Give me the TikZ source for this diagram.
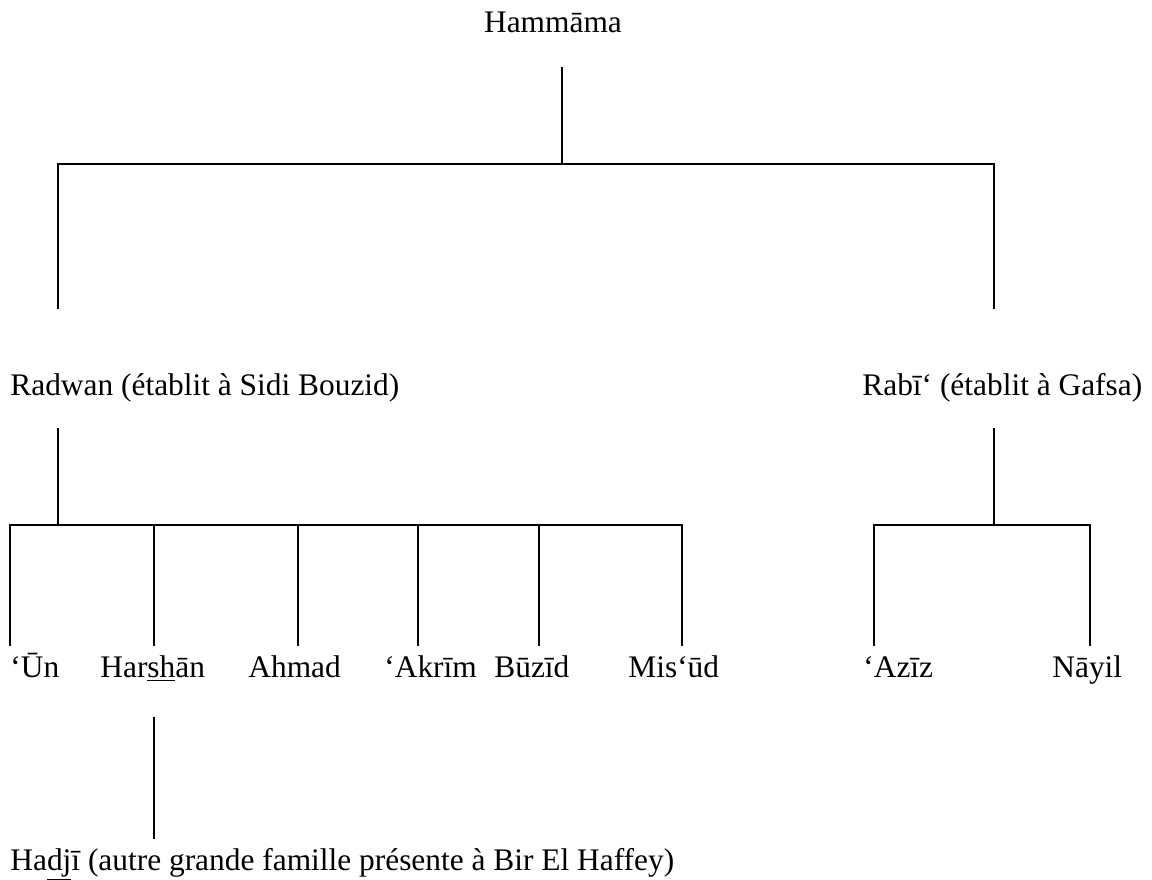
\documentclass[tikz,border=0pt]{standalone}
\usepackage{fontspec}
\setmainfont{Liberation Serif}
\begin{document}
\begin{tikzpicture}[x=0.5pt,y=-0.5pt,
  lbl/.style={anchor=base west,inner sep=0pt,font=\fontsize{15.7}{18}\selectfont},
  link/.style={line width=1.1pt,line cap=rect}]
\useasboundingbox (0,0) rectangle (1152,879);
% texts
\node[lbl,anchor=base] (ham) at (553,32) {Hammāma};
\node[lbl] (rad) at (10,395) {Radwan (établit à Sidi Bouzid)};
\node[lbl] (rab) at (862,395) {Rabī‘ (établit à Gafsa)};
\node[lbl] (un) at (10,677) {‘Ūn};
\node[lbl] (har) at (100,677) {Har\underline{sh}ān};
\node[lbl] (ahm) at (248,677) {Ahmad};
\node[lbl] (akr) at (384,677) {‘Akrīm};
\node[lbl] (buz) at (494,677) {Būzīd};
\node[lbl] (mis) at (628,677) {Mis‘ūd};
\node[lbl] (aziz) at (863,677) {‘Azīz};
\node[lbl] (nay) at (1052,677) {Nāyil};
\node[lbl] (had) at (10,870) {Ha\underline{dj}ī (autre grande famille présente à Bir El Haffey)};
% junction coordinates
\coordinate (j0t) at (562,68);
\coordinate (j0) at (562,164);
\coordinate (j0l) at (58,164);
\coordinate (j0r) at (994,164);
\coordinate (radt) at (58,308);
\coordinate (rabt) at (994,308);
\coordinate (radb) at (58,429);
\coordinate (rabb) at (994,429);
\coordinate (j1) at (58,525);
\coordinate (j2) at (994,525);
% top level
\draw[link] (j0t) -- (j0);
\draw[link] (radt) -- (j0l) -- (j0r) -- (rabt);
% Radwan branch
\draw[link] (radb) -- (j1);
\draw[link] (10,645) -- (10,525) -- (682,525) -- (682,645);
\foreach \x in {154,298,418,539} \draw[link] (\x,525) -- (\x,645);
% Rabi branch
\draw[link] (rabb) -- (j2);
\draw[link] (874,645) -- (874,525) -- (1090,525) -- (1090,645);
% Harshan to Hadji
\draw[link] (154,718) -- (154,838);
\end{tikzpicture}
\end{document}
